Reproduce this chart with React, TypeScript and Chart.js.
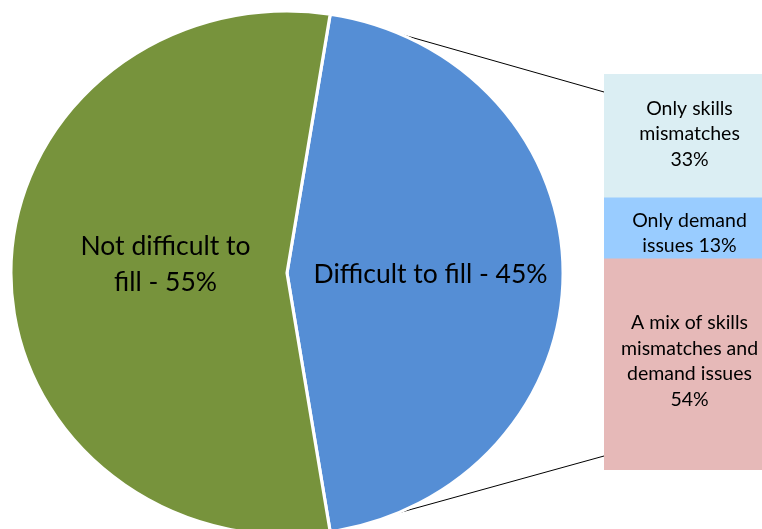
import React, { useEffect, useRef } from "react";
import { Chart, registerables } from "chart.js";

Chart.register(...registerables);

// ---- Data ----
const pieCategories = ["Difficult to fill", "Not difficult to fill"];
const pieValues = [45, 55];
const pieLabelLines = [["Difficult to fill - 45%"], ["Not difficult to", "fill - 55%"]];
const pieColors = ["#558ED5", "#77933C"];

const barCategories = [
  "A mix of skills mismatches and demand issues",
  "Only demand issues",
  "Only skills mismatches",
];
const barValues = [53.3, 15.4, 31.3];
const barLabelLines = [
  ["A mix of skills", "mismatches and", "demand issues", "54%"],
  ["Only demand", "issues 13%"],
  ["Only skills", "mismatches", "33%"],
];
const barColors = ["#E6B9B8", "#99CCFF", "#DBEEF3"];

const FONT = "Lato, 'Open Sans', sans-serif";

export default function App() {
  const pieRef = useRef<HTMLCanvasElement>(null);
  const barRef = useRef<HTMLCanvasElement>(null);

  useEffect(() => {
    document.body.style.margin = "0";
    const total = barValues.reduce((a, b) => a + b, 0);

    const barLabelPlugin = {
      id: "barLabels",
      afterDatasetsDraw(chart: any) {
        const ctx = chart.ctx;
        const offsets = [-3, 5, -2];
        const lh = 25.5;
        ctx.save();
        ctx.fillStyle = "#000";
        ctx.font = `19.5px ${FONT}`;
        ctx.textAlign = "center";
        ctx.textBaseline = "middle";
        barLabelLines.forEach((lines, i) => {
          const el = chart.getDatasetMeta(i).data[0];
          if (!el) return;
          const cx = el.x;
          const cy = (el.y + el.base) / 2 + offsets[i];
          lines.forEach((t, j) => {
            ctx.fillText(t, cx, cy + (j - (lines.length - 1) / 2) * lh);
          });
        });
        ctx.restore();
      },
    };

    const barChart = new Chart(barRef.current!, {
      type: "bar",
      data: {
        labels: ["Difficult to fill"],
        datasets: barCategories.map((c, i) => ({
          label: c,
          data: [barValues[i]],
          backgroundColor: barColors[i],
          borderWidth: 0,
          barPercentage: 1,
          categoryPercentage: 1,
        })),
      },
      options: {
        animation: false,
        responsive: false,
        maintainAspectRatio: false,
        layout: { padding: { left: 604, right: 0, top: 74, bottom: 59 } },
        scales: {
          x: { stacked: true, display: false },
          y: { stacked: true, display: false, min: 0, max: total },
        },
        plugins: { legend: { display: false }, tooltip: { enabled: false } },
      },
      plugins: [barLabelPlugin],
    });

    const SX = 274 / 260;

    const piePlugin = {
      id: "pieExtras",
      beforeDatasetsDraw(chart: any) {
        const ctx = chart.ctx;
        const arc = chart.getDatasetMeta(0).data[0];
        // connectors (drawn behind the pie)
        const topEl = barChart.getDatasetMeta(2).data[0] as any;
        const botEl = barChart.getDatasetMeta(0).data[0] as any;
        if (arc && topEl && botEl) {
          const left = topEl.x - topEl.width / 2;
          const r = arc.outerRadius;
          const p1 = [arc.x + SX * r * Math.cos(arc.startAngle), arc.y + r * Math.sin(arc.startAngle)];
          const p2 = [arc.x + SX * r * Math.cos(arc.endAngle), arc.y + r * Math.sin(arc.endAngle)];
          ctx.save();
          ctx.strokeStyle = "#000";
          ctx.lineWidth = 1;
          ctx.beginPath();
          ctx.moveTo(p1[0], p1[1]);
          ctx.lineTo(left, topEl.y + 18);
          ctx.moveTo(p2[0], p2[1]);
          ctx.lineTo(left, botEl.base - 14);
          ctx.stroke();
          ctx.restore();
        }
        ctx.save();
        if (arc) {
          ctx.translate(arc.x, arc.y);
          ctx.scale(SX, 1);
          ctx.translate(-arc.x, -arc.y);
        }
      },
      afterDatasetsDraw(chart: any) {
        chart.ctx.restore();
        const ctx = chart.ctx;
        const fr = [0.52, 0.44];
        const dy = [1, -9];
        const lh = 36;
        ctx.save();
        ctx.fillStyle = "#000";
        ctx.font = `26.5px ${FONT}`;
        ctx.textAlign = "center";
        ctx.textBaseline = "middle";
        chart.getDatasetMeta(0).data.forEach((a: any, i: number) => {
          const mid = (a.startAngle + a.endAngle) / 2;
          const r = a.outerRadius * fr[i];
          const x = a.x + SX * r * Math.cos(mid);
          const y = a.y + r * Math.sin(mid) + dy[i];
          const lines = pieLabelLines[i];
          lines.forEach((t, j) => {
            ctx.fillText(t, x, y + (j - (lines.length - 1) / 2) * lh);
          });
        });
        ctx.restore();
      },
    };

    const pieChart = new Chart(pieRef.current!, {
      type: "pie",
      data: {
        labels: pieCategories,
        datasets: [
          {
            data: pieValues,
            backgroundColor: pieColors,
            borderColor: "#FFFFFF",
            borderWidth: 3,
          },
        ],
      },
      options: {
        animation: false,
        responsive: false,
        maintainAspectRatio: false,
        rotation: 9,
        radius: 262,
        layout: { padding: { left: 0, right: 188, top: 17, bottom: 0 } },
        plugins: { legend: { display: false }, tooltip: { enabled: false } },
      },
      plugins: [piePlugin],
    });

    return () => {
      pieChart.destroy();
      barChart.destroy();
    };
  }, []);

  return (
    <div style={{ position: "relative", width: 762, height: 529, overflow: "hidden", background: "#fff" }}>
      <canvas ref={barRef} width={775} height={529} style={{ position: "absolute", left: 0, top: 0, width: 775, height: 529 }} />
      <canvas ref={pieRef} width={762} height={529} style={{ position: "absolute", left: 0, top: 0, width: 762, height: 529 }} />
    </div>
  );
}
